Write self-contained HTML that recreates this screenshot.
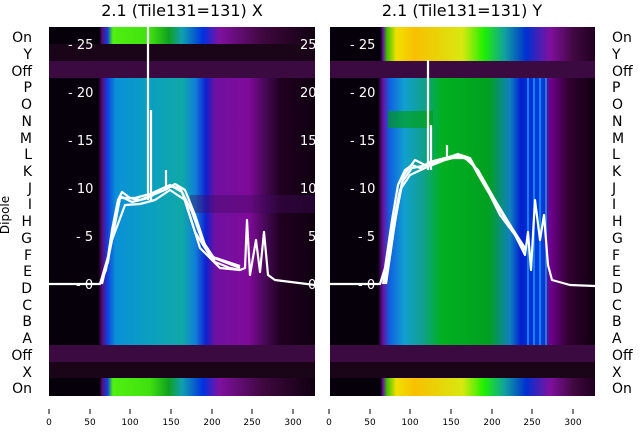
<!DOCTYPE html><html><head><style>
body{margin:0;background:#fff;width:640px;height:440px;overflow:hidden;font-family:"Liberation Sans","DejaVu Sans",sans-serif}
</style></head><body>
<svg width="640" height="440" viewBox="0 0 640 440" xmlns="http://www.w3.org/2000/svg" font-family="DejaVu Sans, Liberation Sans, sans-serif">
<defs>
<linearGradient id="lm" gradientUnits="userSpaceOnUse" x1="49" x2="315" y1="0" y2="0">
<stop offset="0" stop-color="#05000a"/><stop offset="0.185" stop-color="#05000a"/><stop offset="0.2" stop-color="#5a0a7a"/><stop offset="0.22" stop-color="#1040e0"/><stop offset="0.25" stop-color="#0a90d8"/><stop offset="0.38" stop-color="#0aa0c0"/><stop offset="0.5" stop-color="#10a8a8"/><stop offset="0.55" stop-color="#1080d8"/><stop offset="0.59" stop-color="#1020d0"/><stop offset="0.625" stop-color="#7010a0"/><stop offset="0.75" stop-color="#800a9a"/><stop offset="0.82" stop-color="#400850"/><stop offset="0.87" stop-color="#200020"/><stop offset="1" stop-color="#100010"/></linearGradient>
<linearGradient id="lo" gradientUnits="userSpaceOnUse" x1="49" x2="315" y1="0" y2="0">
<stop offset="0" stop-color="#05000a"/><stop offset="0.19" stop-color="#05000a"/><stop offset="0.2" stop-color="#5a0a7a"/><stop offset="0.22" stop-color="#1040e0"/><stop offset="0.24" stop-color="#50f010"/><stop offset="0.38" stop-color="#40e010"/><stop offset="0.45" stop-color="#10a020"/><stop offset="0.5" stop-color="#10a0b0"/><stop offset="0.58" stop-color="#0030e0"/><stop offset="0.64" stop-color="#8010a0"/><stop offset="0.8" stop-color="#400840"/><stop offset="1" stop-color="#100010"/></linearGradient>
<linearGradient id="rm" gradientUnits="userSpaceOnUse" x1="330" x2="595" y1="0" y2="0">
<stop offset="0" stop-color="#05000a"/><stop offset="0.18" stop-color="#05000a"/><stop offset="0.2" stop-color="#6a10a0"/><stop offset="0.225" stop-color="#1060e0"/><stop offset="0.28" stop-color="#10a0d0"/><stop offset="0.35" stop-color="#10a090"/><stop offset="0.42" stop-color="#00b020"/><stop offset="0.6" stop-color="#00a020"/><stop offset="0.68" stop-color="#1080c0"/><stop offset="0.72" stop-color="#0020d0"/><stop offset="0.8" stop-color="#0040e0"/><stop offset="0.83" stop-color="#700090"/><stop offset="0.9" stop-color="#300030"/><stop offset="1" stop-color="#100010"/></linearGradient>
<linearGradient id="ro" gradientUnits="userSpaceOnUse" x1="330" x2="595" y1="0" y2="0">
<stop offset="0" stop-color="#05000a"/><stop offset="0.19" stop-color="#05000a"/><stop offset="0.2" stop-color="#6a10a0"/><stop offset="0.215" stop-color="#40c000"/><stop offset="0.25" stop-color="#f0e000"/><stop offset="0.32" stop-color="#f8c000"/><stop offset="0.5" stop-color="#d8e810"/><stop offset="0.58" stop-color="#20f000"/><stop offset="0.66" stop-color="#10a0a0"/><stop offset="0.74" stop-color="#0030d0"/><stop offset="0.83" stop-color="#8010a0"/><stop offset="0.92" stop-color="#400840"/><stop offset="1" stop-color="#200020"/></linearGradient>
<clipPath id="cl"><rect x="49" y="27" width="266" height="369"/></clipPath>
<clipPath id="cr"><rect x="330" y="27" width="265" height="369"/></clipPath>
</defs>
<text x="182" y="16" font-size="16" text-anchor="middle">2.1 (Tile131=131) X</text>
<text x="462" y="16" font-size="16" text-anchor="middle">2.1 (Tile131=131) Y</text>
<g clip-path="url(#cl)">
<rect x="49" y="27" width="266" height="369" fill="#08000a"/>
<rect x="49" y="27" width="266" height="17" fill="url(#lo)"/>
<rect x="49" y="44" width="266" height="17" fill="#1a0418"/>
<rect x="49" y="61" width="266" height="17" fill="#3a0a40"/>
<rect x="49" y="78" width="266" height="267" fill="url(#lm)"/>
<rect x="190" y="195" width="125" height="18" fill="#400a60" opacity="0.4"/>
<rect x="49" y="345" width="266" height="17" fill="#3a0a40"/>
<rect x="49" y="362" width="266" height="16" fill="#1a0418"/>
<rect x="49" y="378" width="266" height="18" fill="url(#lo)"/>
<g fill="#fff" font-size="13"><text x="68" y="49">- 25</text><text x="68" y="97">- 20</text><text x="68" y="145">- 15</text><text x="68" y="193">- 10</text><text x="76" y="241">- 5</text><text x="76" y="289">- 0</text>
<text x="300" y="49">25</text><text x="300" y="97">20</text><text x="300" y="145">15</text><text x="300" y="193">10</text><text x="308" y="241">5</text><text x="308" y="289">0</text></g>
<g fill="none" stroke="#fff" stroke-width="2.2" stroke-linejoin="round">
<polyline points="49,284 100,284 106,270 112,230 118,200 122,192 130,198 140,200 150,196 165,190 175,184 185,190 195,215 205,245 215,262 230,268 240,270 245,268 247,220 250,275 256,240 260,272 264,232 268,275 275,280 315,285"/>
<polyline points="100,284 108,262 116,210 120,196 132,202 148,198 168,186 180,188 192,212 202,240 214,258 240,268"/>
<polyline points="100,284 110,250 120,198 135,198 150,194 170,185 182,192 195,232 210,256 240,266"/>
<polyline points="102,284 112,240 125,205 140,204 155,200 170,190 185,200 200,248 220,268 240,270"/>
<line x1="148" y1="27" x2="148" y2="200"/><line x1="151" y1="110" x2="151" y2="200"/><line x1="166" y1="170" x2="166" y2="190"/>
</g>
</g>
<g clip-path="url(#cr)">
<rect x="330" y="27" width="265" height="369" fill="#08000a"/>
<rect x="330" y="27" width="265" height="34" fill="url(#ro)"/>
<rect x="330" y="61" width="265" height="17" fill="#3a0a40"/>
<rect x="330" y="78" width="265" height="267" fill="url(#rm)"/>
<rect x="388" y="111" width="45" height="17" fill="#00a000" opacity="0.6"/>
<rect x="330" y="345" width="265" height="17" fill="#3a0a40"/>
<rect x="330" y="362" width="265" height="16" fill="#1a0418"/>
<rect x="330" y="378" width="265" height="18" fill="url(#ro)"/>
<g stroke="#10a0f0" stroke-width="1.5"><line x1="528" y1="78" x2="528" y2="345"/><line x1="534" y1="78" x2="534" y2="345"/><line x1="540" y1="78" x2="540" y2="345"/><line x1="546" y1="78" x2="546" y2="345"/></g>
<g fill="#fff" font-size="13"><text x="350" y="49">- 25</text><text x="350" y="97">- 20</text><text x="350" y="145">- 15</text><text x="350" y="193">- 10</text><text x="358" y="241">- 5</text><text x="358" y="289">- 0</text></g>
<g fill="none" stroke="#fff" stroke-width="2.2" stroke-linejoin="round">
<polyline points="330,284 380,284 385,268 392,220 398,185 405,170 412,165 420,168 430,162 445,158 460,155 470,160 480,178 490,195 500,215 515,235 525,255 528,232 531,270 535,200 540,240 544,215 548,265 552,280 570,285 595,286"/>
<polyline points="383,284 392,230 400,190 410,175 425,168 445,160 460,156 472,162 485,185 500,210 518,240 525,250"/>
<polyline points="384,284 394,228 402,182 412,168 428,165 450,158 465,158 478,170 495,200 512,228 525,248"/>
<polyline points="386,284 396,215 404,175 415,160 425,165 440,160 458,154 470,158 482,180 500,210 525,250"/>
<line x1="428" y1="60" x2="428" y2="170"/><line x1="431" y1="125" x2="431" y2="170"/><line x1="447" y1="145" x2="447" y2="160"/>
</g>
</g>
<g font-size="14" fill="#000">
<g text-anchor="end">
<text x="32" y="42">On</text><text x="32" y="59">Y</text><text x="32" y="76">Off</text><text x="32" y="92">P</text><text x="32" y="109">O</text><text x="32" y="126">N</text><text x="32" y="143">M</text><text x="32" y="159">L</text><text x="32" y="176">K</text><text x="32" y="193">J</text><text x="32" y="209">I</text><text x="32" y="226">H</text><text x="32" y="243">G</text><text x="32" y="260">F</text><text x="32" y="276">E</text><text x="32" y="293">D</text><text x="32" y="310">C</text><text x="32" y="326">B</text><text x="32" y="343">A</text><text x="32" y="360">Off</text><text x="32" y="377">X</text><text x="32" y="393">On</text></g>
<g>
<text x="612" y="42">On</text><text x="612" y="59">Y</text><text x="612" y="76">Off</text><text x="612" y="92">P</text><text x="612" y="109">O</text><text x="612" y="126">N</text><text x="612" y="143">M</text><text x="612" y="159">L</text><text x="612" y="176">K</text><text x="612" y="193">J</text><text x="612" y="209">I</text><text x="612" y="226">H</text><text x="612" y="243">G</text><text x="612" y="260">F</text><text x="612" y="276">E</text><text x="612" y="293">D</text><text x="612" y="310">C</text><text x="612" y="326">B</text><text x="612" y="343">A</text><text x="612" y="360">Off</text><text x="612" y="377">X</text><text x="612" y="393">On</text></g>
<text x="9" y="215" font-size="12" transform="rotate(-90 9 215)" text-anchor="middle">Dipole</text>
</g>
<g stroke="#000" stroke-width="1">
<line x1="49" y1="409" x2="49" y2="414"/><line x1="90" y1="409" x2="90" y2="414"/><line x1="130" y1="409" x2="130" y2="414"/><line x1="171" y1="409" x2="171" y2="414"/><line x1="212" y1="409" x2="212" y2="414"/><line x1="252" y1="409" x2="252" y2="414"/><line x1="293" y1="409" x2="293" y2="414"/>
<line x1="329" y1="409" x2="329" y2="414"/><line x1="370" y1="409" x2="370" y2="414"/><line x1="410" y1="409" x2="410" y2="414"/><line x1="451" y1="409" x2="451" y2="414"/><line x1="492" y1="409" x2="492" y2="414"/><line x1="532" y1="409" x2="532" y2="414"/><line x1="573" y1="409" x2="573" y2="414"/>
</g>
<g font-size="9" text-anchor="middle" fill="#000">
<text x="49" y="425">0</text><text x="90" y="425">50</text><text x="130" y="425">100</text><text x="171" y="425">150</text><text x="212" y="425">200</text><text x="252" y="425">250</text><text x="293" y="425">300</text>
<text x="329" y="425">0</text><text x="370" y="425">50</text><text x="410" y="425">100</text><text x="451" y="425">150</text><text x="492" y="425">200</text><text x="532" y="425">250</text><text x="573" y="425">300</text>
</g>
</svg>
</body></html>
